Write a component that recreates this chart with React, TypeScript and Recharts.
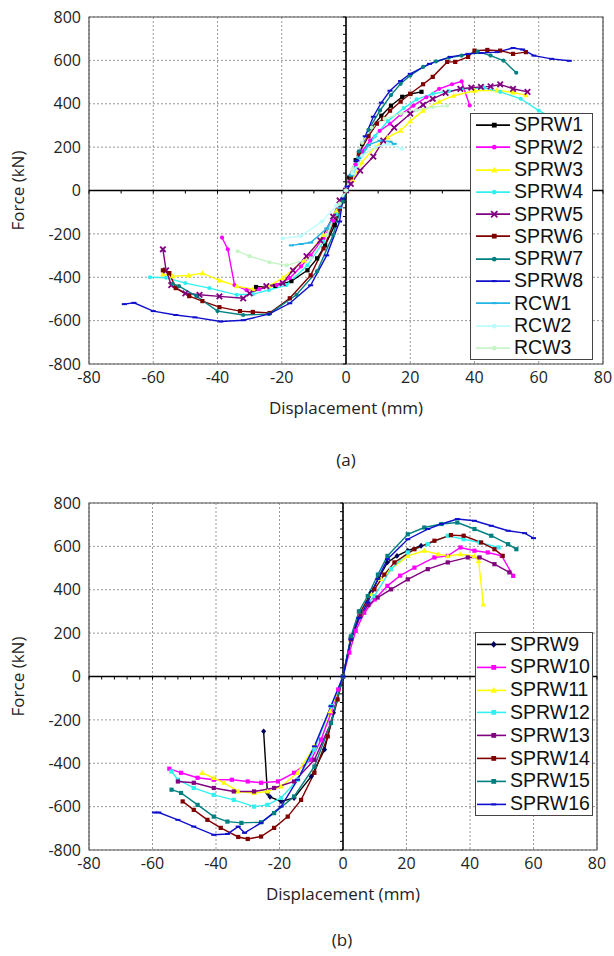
import { CartesianGrid, Legend, Line, LineChart, ReferenceArea, ReferenceLine, XAxis, YAxis } from 'recharts';

type Pt = [number, number];
type Marker = 'square' | 'circle' | 'triangle' | 'cross' | 'diamond' | 'dash';

const dispTicks = [-80, -60, -40, -20, 0, 20, 40, 60, 80];
const forceTicks = [-800, -600, -400, -200, 0, 200, 400, 600, 800];

// panel (a)
const sprw1: Pt[] = [[-28, -445], [-22, -440], [-17, -418], [-12, -368], [-9, -313], [-6.5, -253], [-3.5, -160], [-1, -50], [0, 0], [1, 60], [3, 140], [5, 215], [8, 290], [11, 345], [14, 391], [17.5, 432], [20, 445], [23.5, 455]];
const sprw2: Pt[] = [[-38.6, -217], [-36.8, -271], [-34.7, -436], [-31, -459], [-27, -455], [-21.6, -436], [-17.5, -404], [-14, -350], [-11, -299], [-7, -221], [-4, -140], [-2, -60], [0, 0], [1.2, 41], [3, 120], [5, 180], [7.5, 230], [10.5, 275], [13.7, 308], [17, 350], [21, 391], [25, 430], [29, 469], [33, 490], [36, 503], [38.5, 392]];
const sprw3: Pt[] = [[-57, -386], [-54, -395], [-49, -392], [-44.7, -381], [-39.4, -414], [-34, -441], [-29, -455], [-24, -441], [-19.7, -404], [-13, -322], [-7, -205], [-3, -95], [0, 0], [2, 50], [5, 130], [9, 200], [13, 245], [17, 276], [20, 320], [24, 368], [29, 410], [33.5, 437], [40, 460], [47, 462], [52, 452], [56, 440]];
const sprw4: Pt[] = [[-61, -400], [-56, -402], [-50, -427], [-42.5, -450], [-34, -481], [-29, -478], [-24, -459], [-18.5, -436], [-12, -345], [-7, -236], [-3, -110], [0, 0], [2, 70], [5, 160], [9, 250], [13, 320], [18, 380], [22, 420], [27, 446], [32, 458], [36, 468], [43, 474], [48, 455], [54.4, 423], [60, 368], [63, 345]];
const sprw5: Pt[] = [[-57, -271], [-56, -368], [-54.4, -436], [-50, -474], [-45.6, -481], [-39.4, -488], [-32, -497], [-30, -474], [-24.8, -441], [-19.7, -427], [-16.5, -368], [-12.3, -303], [-8, -230], [-4, -120], [-2, -46], [0, 0], [1.5, 30], [4.4, 92], [8.5, 156], [11.6, 230], [15, 290], [20, 354], [24, 395], [27, 423], [31, 450], [35.6, 469], [39, 474], [42, 478], [45, 480], [48, 489], [52, 469], [56.5, 455]];
const sprw6: Pt[] = [[-57, -368], [-55, -381], [-53, -450], [-48.8, -487], [-44.7, -510], [-39.4, -538], [-33, -556], [-29, -560], [-23.8, -565], [-17.5, -497], [-11, -391], [-7, -267], [-2, -83], [0, 0], [1.5, 60], [4, 170], [7, 250], [9.6, 308], [11.5, 330], [13.7, 368], [17, 410], [20, 446], [24, 490], [27, 524], [31.5, 593], [34, 593], [38, 616], [40, 645], [44, 648], [48, 645], [52, 630], [56, 638]];
const sprw7: Pt[] = [[-54, -430], [-52, -441], [-46.6, -487], [-40, -556], [-32, -574], [-24, -570], [-15.4, -481], [-9, -372], [-4, -205], [-1, -50], [0, 0], [1.5, 70], [4, 180], [7, 280], [10.6, 369], [14, 440], [17, 492], [20, 530], [24, 570], [28, 595], [32, 612], [36, 622], [41, 640], [45, 622], [49, 599], [53, 543]];
const sprw8: Pt[] = [[-69, -524], [-66, -518], [-60, -556], [-53, -574], [-47, -585], [-39, -604], [-32, -598], [-24, -570], [-17.5, -520], [-11, -437], [-6, -299], [-2, -143], [-1, -37], [0, 0], [0.3, 18], [3.4, 138], [6, 250], [8.5, 340], [11, 405], [13.7, 460], [17, 505], [20, 538], [26, 584], [32.5, 616], [38, 630], [42, 634], [47, 638], [52, 657], [55, 650], [58.5, 622], [64, 607], [69.5, 598]];
const rcw1: Pt[] = [[-17, -253], [-14, -247], [-11, -240], [-6, -175], [-2, -80], [0, 0], [1.5, 70], [4, 150], [7, 210], [10.6, 230], [13.7, 225], [15, 215]];
const rcw2: Pt[] = [[-19.7, -221], [-14, -210], [-7.5, -143], [-3, -70], [0, 0], [2, 80], [5, 160], [9, 200], [13, 215], [17.5, 193]];
const rcw3: Pt[] = [[-33.7, -280], [-30, -303], [-23.8, -331], [-18.5, -345], [-11, -313], [-6, -205], [-2, -60], [0, 0], [2, 100], [5, 220], [8, 290], [12, 330], [17, 355], [22, 370], [27, 385], [31.5, 391]];

// panel (b)
const sprw9: Pt[] = [[-25, -253], [-23.8, -537], [-23, -555], [-19.5, -576], [-15.4, -560], [-10, -461], [-5.8, -337], [-3, -167], [0, 0], [2.5, 180], [5.5, 290], [8.8, 387], [11.5, 460], [14, 526], [17, 556], [20.4, 580], [24.6, 603]];
const sprw10: Pt[] = [[-54.7, -425], [-51, -444], [-45.8, -467], [-40.7, -476], [-35, -476], [-30, -484], [-25.8, -490], [-20.5, -484], [-15.4, -444], [-10, -384], [-6.9, -291], [-3.8, -167], [-1.5, -60], [0, 0], [2, 110], [4, 210], [6.7, 294], [10, 355], [14, 418], [18, 465], [22.5, 502], [28.8, 549], [33, 556], [37, 595], [41.4, 580], [45.6, 572], [50, 556], [53.6, 464]];
const sprw11: Pt[] = [[-44.4, -444], [-40.7, -467], [-37.5, -490], [-33, -530], [-28, -537], [-23.8, -530], [-19.5, -507], [-14.3, -444], [-9, -322], [-4, -160], [0, 0], [2.5, 170], [5.5, 290], [9, 380], [12, 450], [15.1, 495], [20.4, 556], [25.6, 580], [29.9, 564], [33, 556], [37, 564], [41.4, 556], [42.7, 533], [44.2, 333]];
const sprw12: Pt[] = [[-54, -438], [-52, -476], [-47, -514], [-40.7, -546], [-34.4, -569], [-28, -600], [-23.8, -592], [-19.5, -560], [-14.3, -476], [-9, -337], [-3.8, -137], [0, 0], [2.5, 180], [5.5, 300], [9.9, 371], [15.1, 495], [20.4, 572], [26.7, 610], [33, 649], [38, 633], [43, 618], [49, 595]];
const sprw13: Pt[] = [[-52, -484], [-47, -490], [-40.7, -514], [-34.4, -530], [-28, -530], [-21.7, -514], [-15.4, -484], [-9, -384], [-3.8, -214], [0, 0], [2.5, 170], [5.5, 280], [8, 330], [10.9, 364], [15.1, 402], [20.4, 448], [26.7, 495], [33, 526], [39.3, 549], [43, 549], [47.7, 518], [52.4, 480]];
const sprw14: Pt[] = [[-50.5, -576], [-47, -615], [-42.7, -661], [-38.5, -698], [-33, -740], [-30, -749], [-25.8, -738], [-21.7, -698], [-17.4, -646], [-13.2, -569], [-9, -444], [-4.8, -276], [-1.7, -106], [0, 0], [2.5, 175], [5.5, 300], [9.9, 402], [13, 470], [16.2, 526], [22.5, 587], [28.8, 626], [34, 652], [38, 649], [43.5, 618], [47.7, 587], [50.3, 556]];
const sprw15: Pt[] = [[-54, -522], [-51, -537], [-45.8, -592], [-40.7, -646], [-36.4, -669], [-32, -675], [-25.8, -672], [-21.7, -630], [-15.4, -553], [-9, -415], [-3.8, -214], [0, 0], [2.5, 185], [5, 300], [7.8, 371], [11, 470], [14, 556], [20.4, 656], [25.6, 687], [31, 703], [36, 710], [41.4, 680], [46.7, 649], [52, 610], [54.6, 587]];
const sprw16: Pt[] = [[-59.4, -627], [-58, -627], [-52, -661], [-47, -692], [-40.7, -730], [-36.4, -726], [-33, -692], [-31, -721], [-25.8, -675], [-19.5, -600], [-14.3, -476], [-9, -322], [-3.8, -137], [0, 0], [2.5, 171], [5, 270], [7.8, 342], [11, 450], [14, 541], [20.4, 633], [26.7, 680], [31, 703], [36, 726], [41.4, 718], [46.7, 695], [52, 672], [57.2, 661], [60, 638]];

interface Series {
    name: string;
    data: Pt[];
    color: string;
    marker: Marker;
    markerColor?: string;
}

const seriesA: Series[] = [
    { name: 'SPRW1', data: sprw1, color: '#000000', marker: 'square' },
    { name: 'SPRW2', data: sprw2, color: '#ff00ff', marker: 'circle' },
    { name: 'SPRW3', data: sprw3, color: '#ffff00', marker: 'triangle' },
    { name: 'SPRW4', data: sprw4, color: '#33f0f0', marker: 'circle' },
    { name: 'SPRW5', data: sprw5, color: '#800080', marker: 'cross' },
    { name: 'SPRW6', data: sprw6, color: '#800000', marker: 'square' },
    { name: 'SPRW7', data: sprw7, color: '#008080', marker: 'circle' },
    { name: 'SPRW8', data: sprw8, color: '#1010cc', marker: 'dash' },
    { name: 'RCW1', data: rcw1, color: '#22b4e4', marker: 'dash' },
    { name: 'RCW2', data: rcw2, color: '#bdfcfc', marker: 'circle' },
    { name: 'RCW3', data: rcw3, color: '#c6f5c6', marker: 'circle' },
];

const seriesB: Series[] = [
    { name: 'SPRW9', data: sprw9, color: '#000000', marker: 'diamond', markerColor: '#000060' },
    { name: 'SPRW10', data: sprw10, color: '#ff00ff', marker: 'square' },
    { name: 'SPRW11', data: sprw11, color: '#ffff00', marker: 'triangle' },
    { name: 'SPRW12', data: sprw12, color: '#33f0f0', marker: 'square' },
    { name: 'SPRW13', data: sprw13, color: '#800080', marker: 'square' },
    { name: 'SPRW14', data: sprw14, color: '#800000', marker: 'square' },
    { name: 'SPRW15', data: sprw15, color: '#008080', marker: 'square' },
    { name: 'SPRW16', data: sprw16, color: '#1010cc', marker: 'dash' },
];

const toRows = (pts: Pt[]) => pts.map(([d, f]) => ({ d, f }));

function MarkerShape({ x, y, marker, color, s = 2.4 }: { x: number; y: number; marker: Marker; color: string; s?: number }) {
    switch (marker) {
        case 'square':
            return <rect x={x - s} y={y - s} width={s * 2} height={s * 2} fill={color} />;
        case 'circle':
            return <circle cx={x} cy={y} r={s} fill={color} />;
        case 'triangle':
            return <polygon points={`${x},${y - s * 1.4} ${x + s * 1.3},${y + s} ${x - s * 1.3},${y + s}`} fill={color} />;
        case 'diamond':
            return <polygon points={`${x},${y - s * 1.4} ${x + s * 1.2},${y} ${x},${y + s * 1.4} ${x - s * 1.2},${y}`} fill={color} />;
        case 'cross':
            return (
                <g stroke={color} strokeWidth={1.8}>
                    <line x1={x - s * 1.3} y1={y - s * 1.3} x2={x + s * 1.3} y2={y + s * 1.3} />
                    <line x1={x - s * 1.3} y1={y + s * 1.3} x2={x + s * 1.3} y2={y - s * 1.3} />
                </g>
            );
        default:
            return <rect x={x - 2.5} y={y - 1} width={5} height={2} fill={color} />;
    }
}

// center axes with small ticks, drawn from the line ends the library gives
function axisShape(horizontal: boolean, steps: number) {
    return (p: any) => {
        const { x1, y1, x2, y2 } = p;
        const ticks = [];
        for (let i = 0; i <= steps; i++) {
            if (horizontal) {
                const x = x1 + ((x2 - x1) * i) / steps;
                ticks.push(<line key={i} x1={x} y1={y1} x2={x} y2={y1 + 3} />);
            } else {
                const y = y1 + ((y2 - y1) * i) / steps;
                ticks.push(<line key={i} x1={x1 - 3} y1={y} x2={x1} y2={y} />);
            }
        }
        return (
            <g stroke="#000" strokeWidth={1}>
                <line x1={x1} y1={y1} x2={x2} y2={y2} strokeWidth={1.6} />
                {ticks}
            </g>
        );
    };
}

function LegendBox({ payload, series, rowH, lineW, gap }: any) {
    const shown = new Set((payload || []).map((e: any) => e.value));
    return (
        <div style={{ border: '1px solid #444', background: '#fff', fontFamily: '"Liberation Sans", Arial, sans-serif', fontSize: 19.5 }}>
            {series
                .filter((s: Series) => shown.has(s.name))
                .map((s: Series) => (
                    <div key={s.name} style={{ height: rowH, display: 'flex', alignItems: 'center' }}>
                        <svg width={lineW + gap} height={rowH} style={{ flex: 'none' }}>
                            <line x1={gap - 2} y1={rowH / 2} x2={lineW + gap - 4} y2={rowH / 2} stroke={s.color} strokeWidth={1.6} />
                            <MarkerShape x={(lineW + gap * 1.5) / 2} y={rowH / 2} marker={s.marker} color={s.markerColor || s.color} />
                        </svg>
                        <span style={{ color: '#111', lineHeight: 1 }}>{s.name}</span>
                    </div>
                ))}
        </div>
    );
}

function Panel({ series, hSteps, right, legendPos, rowH, lineW, gap }: any) {
    return (
        <LineChart
            width={614}
            height={440}
            margin={{ top: 17, right, bottom: 46, left: 29 }}
            style={{ fontFamily: '"Open Sans", sans-serif' }}
        >
            <CartesianGrid strokeDasharray="2 2" stroke="#999" />
            <XAxis
                type="number"
                dataKey="d"
                domain={[-80, 80]}
                ticks={dispTicks}
                allowDataOverflow
                axisLine={false}
                tickLine={false}
                height={30}
                tick={{ fontSize: 16, fill: '#222' }}
                label={{ value: 'Displacement (mm)', position: 'bottom', offset: 8, fontSize: 17, fill: '#222' }}
            />
            <YAxis
                type="number"
                dataKey="f"
                domain={[-800, 800]}
                ticks={forceTicks}
                allowDataOverflow
                axisLine={false}
                tickLine={false}
                width={60}
                tick={{ fontSize: 16, fill: '#222' }}
                label={{ value: 'Force (kN)', angle: -90, position: 'insideLeft', offset: -11, fontSize: 17, fill: '#222', style: { textAnchor: 'middle' } }}
            />
            <ReferenceArea x1={-80} x2={80} y1={-800} y2={800} fill="none" stroke="#555" strokeWidth={1.2} />
            <ReferenceLine y={0} shape={axisShape(true, hSteps)} />
            <ReferenceLine x={0} shape={axisShape(false, 40)} />
            {series.map((s: Series) => (
                <Line
                    key={s.name}
                    name={s.name}
                    data={toRows(s.data)}
                    dataKey="f"
                    type="linear"
                    stroke={s.color}
                    strokeWidth={1.4}
                    isAnimationActive={false}
                    dot={(p: any) => (
                        <g key={`${s.name}-${p.index}`}>
                            <MarkerShape x={p.cx} y={p.cy} marker={s.marker} color={s.markerColor || s.color} s={2.1} />
                        </g>
                    )}
                    activeDot={false}
                />
            ))}
            <Legend
                layout="vertical"
                align="center"
                verticalAlign="middle"
                wrapperStyle={{ ...legendPos }}
                content={(props: any) => <LegendBox payload={props.payload} series={series} rowH={rowH} lineW={lineW} gap={gap} />}
            />
        </LineChart>
    );
}

const captionStyle: any = {
    position: 'absolute',
    transform: 'translateX(-50%)',
    fontFamily: '"Open Sans", sans-serif',
    fontSize: 17,
    color: '#222',
    lineHeight: '20px',
};

export default function App() {
    return (
        <div style={{ position: 'absolute', left: 0, top: 0, width: 614, height: 956, background: '#fff' }}>
            <div style={{ position: 'absolute', left: 0, top: 0 }}>
                <Panel
                    series={seriesA}
                    hSteps={16}
                    right={11}
                    legendPos={{ left: 470, top: 113, width: 123, height: 248 }}
                    rowH={22.3}
                    lineW={36}
                    gap={7}
                />
            </div>
            <div style={{ ...captionStyle, left: 346, top: 450 }}>(a)</div>
            <div style={{ position: 'absolute', left: 0, top: 486 }}>
                <Panel
                    series={seriesB}
                    hSteps={40}
                    right={17}
                    legendPos={{ left: 475, top: 146, width: 118, height: 184 }}
                    rowH={22.8}
                    lineW={31}
                    gap={3}
                />
            </div>
            <div style={{ ...captionStyle, left: 342, top: 930 }}>(b)</div>
        </div>
    );
}
